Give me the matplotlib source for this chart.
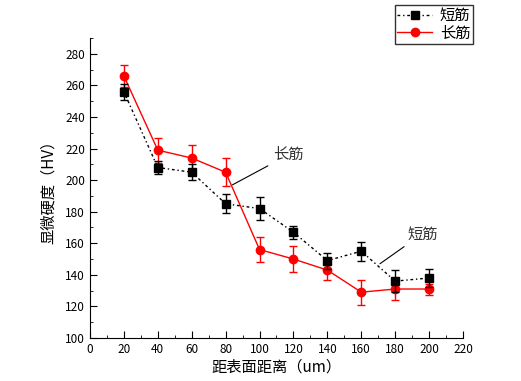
import matplotlib.pyplot as plt
from matplotlib.lines import Line2D
from matplotlib.ticker import MultipleLocator

plt.rcParams['font.family'] = ['Noto Sans CJK SC', 'DejaVu Sans']

# Distance from surface (um).
x = [20, 40, 60, 80, 100, 120, 140, 160, 180, 200]

# Short fibre series.
short_y = [256, 208, 205, 185, 182, 167, 149, 155, 136, 138]
short_err = [5, 4, 5, 6, 7, 4, 5, 6, 7, 6]

# Long fibre series.
long_y = [266, 219, 214, 205, 156, 150, 143, 129, 131, 131]
long_err = [7, 8, 8, 9, 8, 8.5, 6, 8, 7, 3.5]

short_ls = (0, (2, 2, 1, 2))

fig = plt.figure(figsize=(5.21, 3.81), dpi=100)
ax = fig.add_axes([0.1727, 0.113, 0.716, 0.787])

ax.errorbar(x, short_y, yerr=short_err, color='black', marker='s', markersize=5.5,
            linestyle=short_ls, linewidth=1, capsize=3, elinewidth=1,
            capthick=1, zorder=3)
ax.errorbar(x, long_y, yerr=long_err, color='red', marker='o', markersize=6,
            linestyle='-', linewidth=1, capsize=3, elinewidth=1,
            capthick=1, zorder=2)

# Callout labels.
ax.annotate('长筋', xy=(84, 197), xytext=(108, 216), fontsize=11, color='#333333',
            va='center', ha='left',
            arrowprops=dict(arrowstyle='-', color='black', lw=0.8, shrinkB=0, shrinkA=2))
ax.annotate('短筋', xy=(171, 147), xytext=(187, 166), fontsize=11, color='#333333',
            va='center', ha='left',
            arrowprops=dict(arrowstyle='-', color='black', lw=0.8, shrinkB=0, shrinkA=2))

ax.set_xlim(0, 220)
ax.set_ylim(100, 290)
ax.set_xticks(range(0, 221, 20))
ax.set_yticks(range(100, 281, 20))
ax.xaxis.set_minor_locator(MultipleLocator(10))
ax.yaxis.set_minor_locator(MultipleLocator(10))
ax.tick_params(which='major', direction='in', length=5, labelsize=8.5)
ax.tick_params(which='minor', direction='in', length=2.5)
ax.spines['top'].set_visible(False)
ax.spines['right'].set_visible(False)

ax.set_xlabel('距表面距离（um）', fontsize=11, labelpad=2)
ax.set_ylabel('显微硬度（HV）', fontsize=11, labelpad=6)

handles = [
    Line2D([], [], color='black', marker='s', markersize=5.5, linestyle=short_ls, linewidth=1),
    Line2D([], [], color='red', marker='o', markersize=6, linestyle='-', linewidth=1),
]
leg = fig.legend(handles, ['短筋', '长筋'], loc='upper right', bbox_to_anchor=(0.907, 0.988),
                 fontsize=11, frameon=True, fancybox=False, edgecolor='black',
                 borderpad=0.15, labelspacing=0.05, handlelength=2.3,
                 handletextpad=0.5, borderaxespad=0)
leg.get_frame().set_linewidth(1)

plt.savefig('out.png')
plt.close()
